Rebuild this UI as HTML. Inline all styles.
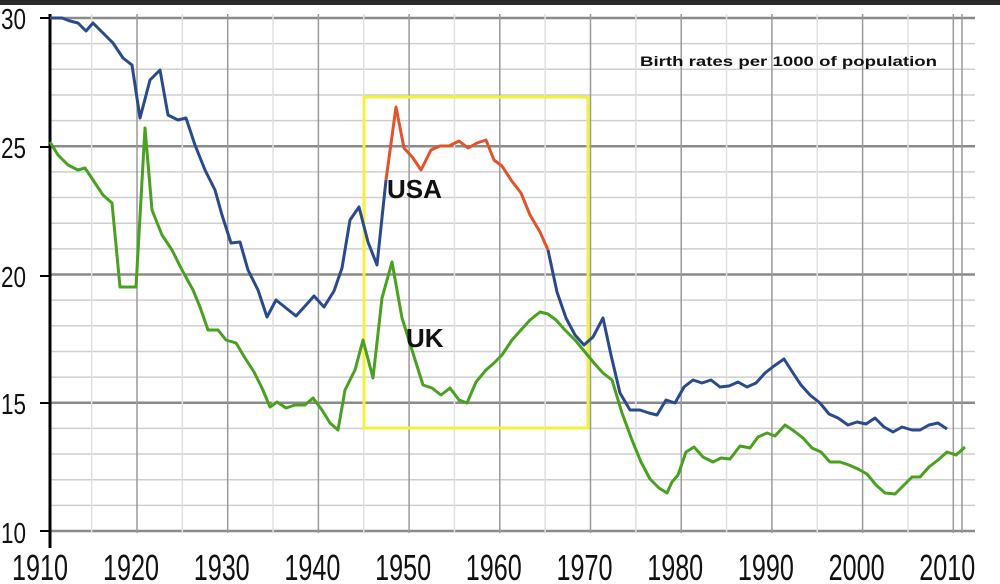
<!DOCTYPE html>
<html><head><meta charset="utf-8"><style>
html,body{margin:0;padding:0;background:#fff;width:1000px;height:584px;overflow:hidden}
svg{display:block}
text{font-family:"Liberation Sans",sans-serif}
</style></head><body>
<svg width="1000" height="584" viewBox="0 0 1000 584">
<rect x="0" y="0" width="1000" height="584" fill="#fff"/>
<rect x="0" y="0" width="1000" height="5" fill="#2a2a2a"/>
<g id="grid"></g>
<line x1="50" y1="14" x2="50" y2="548" stroke="#000" stroke-width="3"/>
<g stroke="#000" stroke-width="2">
<line x1="40" y1="18" x2="50" y2="18"/><line x1="40" y1="147" x2="50" y2="147"/><line x1="40" y1="276" x2="50" y2="276"/><line x1="40" y1="403" x2="50" y2="403"/><line x1="40" y1="531" x2="50" y2="531"/>
</g>
<g font-size="29" fill="#111">
<text x="1" y="29" textLength="25" lengthAdjust="spacingAndGlyphs">30</text>
<text x="1" y="158" textLength="25" lengthAdjust="spacingAndGlyphs">25</text>
<text x="1" y="287" textLength="25" lengthAdjust="spacingAndGlyphs">20</text>
<text x="1" y="414" textLength="25" lengthAdjust="spacingAndGlyphs">15</text>
<text x="1" y="543" textLength="25" lengthAdjust="spacingAndGlyphs">10</text>
</g>
<g font-size="36" fill="#111" id="xl"></g>
<rect x="364" y="97" width="224" height="331" fill="none" stroke="#f2f23a" stroke-width="3"/>
<polyline fill="none" stroke="#2b4a8c" stroke-width="3" stroke-linejoin="round" points="50,18 62,18 70,21 78,23 86,31 93,23 103,33 113,43 123,58 132,65 140,118 150,80 160,70 168,115 178,120 186,118 195,145 205,170 215,190 222,215 231,243 240,242 248,270 258,290 267,317 276,300 286,308 296,316 306,305 314,296 324,307 334,291 342,268 350,220 359,207 368,242 377,265 386,180"/>
<polyline fill="none" stroke="#e0532b" stroke-width="3" stroke-linejoin="round" points="386,180 396,107 404,148 413,158 421,170 431,150 440,146 449,146 459,141 468,148 477,143 486,140 494,160 502,166 511,180 521,193 530,215 540,232 548,250"/>
<polyline fill="none" stroke="#2b4a8c" stroke-width="3" stroke-linejoin="round" points="548,250 557,292 566,318 575,335 584,345 593,337 603,318 611,355 620,393 630,410 640,410 649,413 657,415 666,400 675,403 684,387 693,380 702,383 711,380 720,387 729,386 738,382 747,387 756,383 765,373 774,366 784,359 793,373 801,385 810,395 820,403 829,414 838,418 848,425 857,422 866,424 875,418 884,427 893,432 902,427 912,430 920,430 929,425 938,423 947,429"/>
<polyline fill="none" stroke="#4aa020" stroke-width="3" stroke-linejoin="round" points="50,142 58,155 68,165 78,170 85,168 93,180 103,195 112,203 120,287 130,287 136,287 145,128 152,210 162,235 172,250 182,270 193,290 200,307 208,330 218,330 226,340 236,343 245,358 254,372 262,388 270,407 277,402 286,408 295,405 305,405 313,398 322,410 330,423 338,430 345,390 355,370 363,340 373,378 382,298 392,262 402,318 412,350 423,385 432,388 441,395 450,388 459,400 467,403 476,382 486,370 494,363 502,355 512,340 521,330 530,320 540,312 548,314 556,320 565,330 575,340 585,352 594,363 603,373 612,380 622,413 632,440 641,462 650,479 659,488 667,493 672,482 678,475 686,452 694,447 703,457 713,462 721,458 730,459 740,446 750,448 758,437 767,433 775,436 785,425 794,431 803,438 812,448 821,452 830,462 840,462 849,465 858,469 867,474 876,485 885,493 895,494 904,485 912,477 920,477 929,467 938,460 947,452 956,455 965,447"/>
<text x="387" y="198" font-size="26" font-weight="bold" fill="#111">USA</text>
<text x="406" y="347" font-size="26" font-weight="bold" fill="#111">UK</text>
<text x="640" y="66" font-size="14" font-weight="bold" fill="#111" textLength="297" lengthAdjust="spacingAndGlyphs">Birth rates per 1000 of population</text>
</svg>
<script>
var ns="http://www.w3.org/2000/svg",g=document.getElementById("grid"),xl=document.getElementById("xl");
function L(x1,y1,x2,y2,c,w){var l=document.createElementNS(ns,"line");l.setAttribute("x1",x1);l.setAttribute("y1",y1);l.setAttribute("x2",x2);l.setAttribute("y2",y2);l.setAttribute("stroke",c);l.setAttribute("stroke-width",w);g.appendChild(l);}
var px=9.07;
function X(yr){return 137+(yr-1920)*px;}
for(var v=10;v<=30;v++){var y=531-(v-10)*25.65;if(v%5==0)L(50,y,975,y,"#8a8a8a",2.5);else L(50,y,975,y,"#cfcfcf",1.5);}
for(var yr=1915;yr<=2012;yr+=5){var x=X(yr);if(yr%10==0)L(x,14,x,533,"#9a9a9a",1.5);else L(x,14,x,533,"#e0e0e0",1.5);}
L(962,14,962,533,"#9a9a9a",1.5);
for(var yr=1910;yr<=2010;yr+=10){var x=(yr==1910?46:X(yr))-6;var t=document.createElementNS(ns,"text");t.setAttribute("x",x);t.setAttribute("y",580);t.setAttribute("text-anchor","middle");t.setAttribute("textLength","56");t.setAttribute("lengthAdjust","spacingAndGlyphs");t.textContent=yr;xl.appendChild(t);}
</script>
</body></html>
